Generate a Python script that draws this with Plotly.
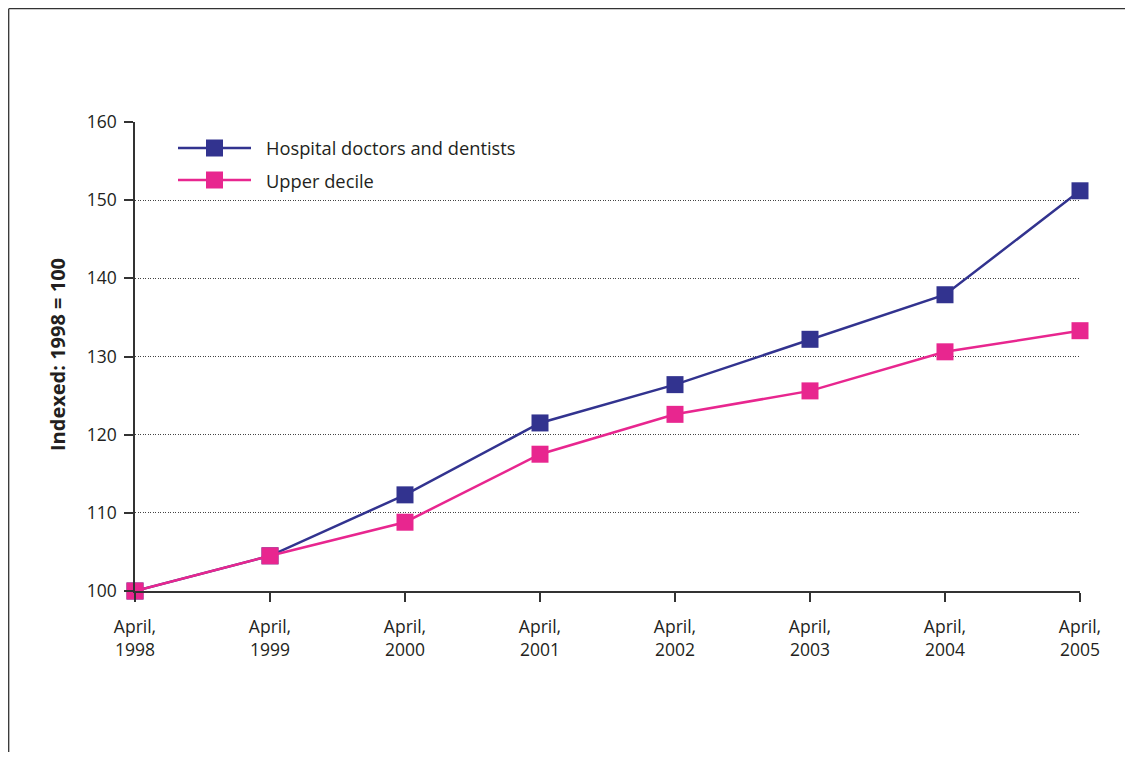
import plotly.graph_objects as go

years = [1998, 1999, 2000, 2001, 2002, 2003, 2004, 2005]
tick_labels = ["April,<br>%d" % y for y in years]
hospital = [100, 104.5, 112.3, 121.5, 126.4, 132.2, 137.9, 151.2]
upper_decile = [100, 104.5, 108.8, 117.5, 122.6, 125.6, 130.6, 133.3]
series_names = ["Hospital doctors and dentists", "Upper decile"]
colors = ["#32338F", "#E8268F"]

# page body has an 8px margin, so work in figure coordinates
W, H = 1125, 744
L, R, T, B = 127, 1072, 114, 583
pw, ph = R - L, B - T

def px(x):
    return (x - L) / pw

def py(y):
    return (B - y) / ph

fig = go.Figure()
for name, vals, c in zip(series_names, [hospital, upper_decile], colors):
    fig.add_trace(go.Scatter(
        x=years, y=vals, name=name, mode="lines+markers",
        line=dict(color=c, width=2.5),
        marker=dict(symbol="square", size=17, color=c),
        cliponaxis=False, showlegend=False))

font = "Open Sans, Lato, sans-serif"
txt = "#231F20"
shapes = []
annotations = []
# outer frame (left and top edges visible)
shapes.append(dict(type="line", xref="paper", yref="paper",
                   x0=px(0.7), x1=px(0.7), y0=py(0.7), y1=py(H + 20),
                   line=dict(color="#333333", width=1.3)))
shapes.append(dict(type="line", xref="paper", yref="paper",
                   x0=px(0.7), x1=px(W + 20), y0=py(0.7), y1=py(0.7),
                   line=dict(color="#333333", width=1.3)))
# manual legend
for i, (name, c) in enumerate(zip(series_names, colors)):
    yy = 140 + i * 32
    shapes.append(dict(type="line", xref="paper", yref="paper",
                       x0=px(170), x1=px(243), y0=py(yy), y1=py(yy),
                       line=dict(color=c, width=2.5)))
    shapes.append(dict(type="rect", xref="paper", yref="paper",
                       x0=px(198), x1=px(215), y0=py(yy + 8.5), y1=py(yy - 8.5),
                       line=dict(width=0), fillcolor=c))
    annotations.append(dict(text=name, xref="paper", yref="paper",
                            x=px(256), y=py(yy), xanchor="left", yanchor="middle",
                            showarrow=False, font=dict(family=font, size=18.3, color=txt)))
# y axis title
annotations.append(dict(text="<b>Indexed: 1998 = 100</b>", xref="paper", yref="paper",
                        x=px(49), y=py(347), xanchor="center", yanchor="middle",
                        textangle=-90, showarrow=False,
                        font=dict(family=font, size=20, color=txt)))

fig.update_layout(
    width=W, height=H,
    margin=dict(l=L, r=W - R, t=T, b=H - B),
    paper_bgcolor="white", plot_bgcolor="white",
    shapes=shapes, annotations=annotations,
    font=dict(family=font, size=17.5, color=txt),
    xaxis=dict(range=[1998, 2005], tickvals=years, ticktext=tick_labels,
               showgrid=False, zeroline=False, showline=True, linecolor="#333333", linewidth=1.5,
               ticks="outside", ticklen=9, tickcolor="#333333", tickwidth=1.5,
               ticklabelstandoff=10,
               tickfont=dict(family=font, size=17.5, color=txt)),
    yaxis=dict(range=[100, 160], tickvals=[100, 110, 120, 130, 140, 150, 160],
               showgrid=True, gridcolor="#444444", griddash="1px,1.5px", gridwidth=1,
               zeroline=False, showline=True, linecolor="#333333", linewidth=1.5,
               ticks="outside", ticklen=9, tickcolor="#333333", tickwidth=1.5,
               ticklabelstandoff=4,
               tickfont=dict(family=font, size=17.5, color=txt)),
)

fig.write_html("out.html")
